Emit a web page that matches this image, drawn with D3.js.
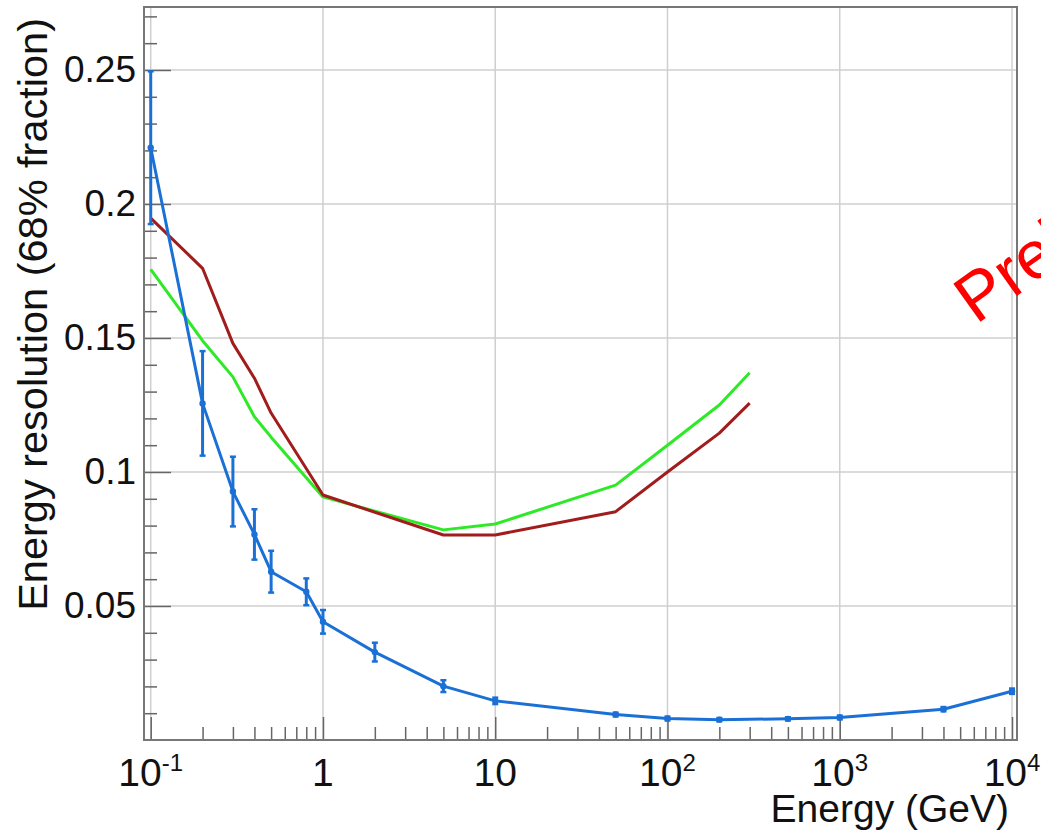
<!DOCTYPE html>
<html>
<head>
<meta charset="utf-8">
<script src="https://cdn.jsdelivr.net/npm/d3@7"></script>
<style>
body { margin: 0; background: #fff; }
svg text { font-family: "Liberation Sans", Arial, sans-serif; fill: #111; }
</style>
</head>
<body>
<svg id="chart" width="1041" height="832"></svg>
<script>
// blue: with error bars
var blueEnergy = [0.1, 0.2, 0.3, 0.4, 0.5, 0.8, 1, 2, 5, 10, 50, 100, 200, 500, 1000, 4000, 10000];
var blueRes = [0.221, 0.1256, 0.0927, 0.0767, 0.0628, 0.0553, 0.0441, 0.0328, 0.0201, 0.0146, 0.0095, 0.008, 0.0076, 0.0079, 0.0084, 0.0115, 0.0182];
var blueErr = [0.0285, 0.0195, 0.013, 0.0094, 0.0078, 0.005, 0.0044, 0.0035, 0.0022, 0.0012, 0.0007, 0.0007, 0.0006, 0.0006, 0.0007, 0.0008, 0.001];

var redEnergy = [0.1, 0.2, 0.3, 0.4, 0.5, 1, 5, 10, 50, 100, 200, 300];
var redRes = [0.1947, 0.176, 0.148, 0.135, 0.122, 0.0914, 0.0765, 0.0765, 0.0852, 0.1, 0.1145, 0.1257];

var greenEnergy = [0.1, 0.2, 0.3, 0.4, 0.5, 1, 5, 10, 50, 100, 200, 300];
var greenRes = [0.1756, 0.149, 0.1355, 0.1206, 0.113, 0.0907, 0.0784, 0.0806, 0.0951, 0.11, 0.125, 0.137];

var yTicks = [0.05, 0.1, 0.15, 0.2, 0.25];
var yTickLabels = ['0.05', '0.1', '0.15', '0.2', '0.25'];
var xTicks = [0.1, 1, 10, 100, 1000, 10000];
var xTickLabels = ['10^-1', '1', '10', '10^2', '10^3', '10^4'];

var frame = {left: 144, right: 1017, top: 7, bottom: 740};

var svg = d3.select('#chart');

svg.append('rect')
	.attr('width', 1041)
	.attr('height', 832)
	.attr('fill', '#fff');

var x = d3.scaleLog()
	.domain([Math.pow(10, -1.039), Math.pow(10, 4.029)])
	.range([frame.left, frame.right]);

var y = d3.scaleLinear()
	.domain([0, 0.2735])
	.range([frame.bottom, frame.top]);

// grid

svg.append('g')
	.selectAll('line')
	.data(xTicks)
	.enter()
	.append('line')
	.attr('x1', d => x(d))
	.attr('x2', d => x(d))
	.attr('y1', frame.top)
	.attr('y2', frame.bottom)
	.attr('stroke', '#cfcfcf')
	.attr('stroke-width', 1.5);

svg.append('g')
	.selectAll('line')
	.data(yTicks)
	.enter()
	.append('line')
	.attr('x1', frame.left)
	.attr('x2', frame.right)
	.attr('y1', d => y(d))
	.attr('y2', d => y(d))
	.attr('stroke', '#cfcfcf')
	.attr('stroke-width', 1.5);

// axes

var minorY = d3.range(1, 28).map(i => i / 100).filter(v => Math.round(v * 100) % 5 !== 0);

svg.append('g')
	.attr('transform', `translate(${frame.left},0)`)
	.call(d3.axisLeft(y).tickValues(minorY).tickSize(-13).tickFormat(''))
	.call(g => g.select('.domain').remove())
	.selectAll('line').attr('stroke', '#666').attr('stroke-width', 1.5);

var yAxis = svg.append('g')
	.attr('transform', `translate(${frame.left},0)`)
	.call(d3.axisLeft(y).tickValues(yTicks).tickSize(-27).tickPadding(8)
		.tickFormat((d, i) => yTickLabels[i]))
	.call(g => g.select('.domain').remove());

yAxis.selectAll('line').attr('stroke', '#666').attr('stroke-width', 1.5);
yAxis.selectAll('text')
	.attr('font-size', 37)
	.attr('font-family', '"Liberation Sans", Arial, sans-serif')
	.attr('fill', '#111');

var minorX = [];
[0.1, 1, 10, 100, 1000].forEach(dec => {
	for (var k = 2; k <= 9; k++) minorX.push(dec * k);
});

svg.append('g')
	.attr('transform', `translate(0,${frame.bottom})`)
	.call(d3.axisBottom(x).tickValues(minorX).tickSize(-13).tickFormat(''))
	.call(g => g.select('.domain').remove())
	.selectAll('line').attr('stroke', '#666').attr('stroke-width', 1.5);

svg.append('g')
	.attr('transform', `translate(0,${frame.bottom})`)
	.call(d3.axisBottom(x).tickValues(xTicks).tickSize(-23).tickFormat(''))
	.call(g => g.select('.domain').remove())
	.selectAll('line').attr('stroke', '#666').attr('stroke-width', 1.5);

var xLab = svg.append('g')
	.selectAll('text')
	.data(xTicks)
	.enter()
	.append('text')
	.attr('x', d => x(d))
	.attr('y', 786)
	.attr('text-anchor', 'middle')
	.attr('font-size', 39);

xLab.each(function(d, i){
	var parts = xTickLabels[i].split('^');
	var t = d3.select(this);
	t.append('tspan').text(parts[0]);
	if (parts[1]) {
		t.append('tspan')
			.attr('font-size', 24)
			.attr('dy', -15)
			.text(parts[1]);
	}
});

// frame
svg.append('rect')
	.attr('x', frame.left)
	.attr('y', frame.top)
	.attr('width', frame.right - frame.left)
	.attr('height', frame.bottom - frame.top)
	.attr('fill', 'none')
	.attr('stroke', '#777')
	.attr('stroke-width', 2);

// titles
svg.append('text')
	.attr('x', 1009)
	.attr('y', 822)
	.attr('text-anchor', 'end')
	.attr('font-size', 39)
	.text('Energy (GeV)');

svg.append('text')
	.attr('transform', 'translate(47,18) rotate(-90)')
	.attr('text-anchor', 'end')
	.attr('font-size', 41.5)
	.text('Energy resolution (68% fraction)');

// curves
var line = d3.line()
	.x(d => x(d[0]))
	.y(d => y(d[1]));

function drawCurve(energy, res, color){
	svg.append('path')
		.datum(energy.map((e, i) => [e, res[i]]))
		.attr('d', line)
		.attr('fill', 'none')
		.attr('stroke', color)
		.attr('stroke-width', 3)
		.attr('stroke-linejoin', 'round');
}

drawCurve(greenEnergy, greenRes, '#2eea26');
drawCurve(redEnergy, redRes, '#a11c1c');

var blueColor = '#1b70d6';
drawCurve(blueEnergy, blueRes, blueColor);

var bluePts = blueEnergy.map((e, i) => ({e: e, v: blueRes[i], err: blueErr[i]}));

var bars = svg.append('g').selectAll('g')
	.data(bluePts)
	.enter()
	.append('g');

bars.append('line')
	.attr('x1', d => x(d.e))
	.attr('x2', d => x(d.e))
	.attr('y1', d => y(d.v + d.err))
	.attr('y2', d => y(d.v - d.err))
	.attr('stroke', blueColor)
	.attr('stroke-width', 3);

bars.selectAll('.cap')
	.data(d => [d.v + d.err, d.v - d.err].map(v => ({e: d.e, v: v})))
	.enter()
	.append('line')
	.attr('class', 'cap')
	.attr('x1', d => x(d.e) - 3)
	.attr('x2', d => x(d.e) + 3)
	.attr('y1', d => y(d.v))
	.attr('y2', d => y(d.v))
	.attr('stroke', blueColor)
	.attr('stroke-width', 2.5);

bars.append('circle')
	.attr('cx', d => x(d.e))
	.attr('cy', d => y(d.v))
	.attr('r', 3.2)
	.attr('fill', blueColor);

// watermark, cut by the picture edge as in the source
svg.append('text')
	.attr('transform', 'translate(976,325) rotate(-35.5)')
	.attr('font-family', '"Open Sans", sans-serif')
	.attr('font-size', 68)
	.style('fill', '#ff0000')
	.text('Preliminary');
</script>
</body>
</html>
